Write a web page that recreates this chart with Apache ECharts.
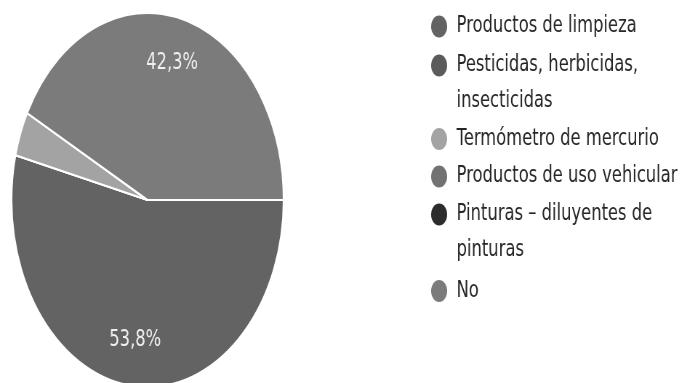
<!DOCTYPE html>
<html>
<head>
<meta charset="utf-8">
<script src="https://cdn.jsdelivr.net/npm/echarts@6/dist/echarts.min.js"></script>
<style>
  html, body { margin: 0; padding: 0; background: #fff; overflow: hidden; }
  #wrap { width: 682px; height: 383px; overflow: hidden; position: relative; }
  #c { width: 938px; height: 383px; transform: scaleX(0.727); transform-origin: 0 0; position: absolute; left: 0; top: 0; }
</style>
</head>
<body>
<div id="wrap"><div id="c"></div></div>
<script>
// Data (responses per option)
const categories = [
  'Productos de limpieza',
  'Pesticidas, herbicidas, insecticidas',
  'Termómetro de mercurio',
  'Productos de uso vehicular',
  'Pinturas – diluyentes de pinturas',
  'No'
];
const legendLabels = [
  'Productos de limpieza',
  'Pesticidas, herbicidas,\ninsecticidas',
  'Termómetro de mercurio',
  'Productos de uso vehicular',
  'Pinturas – diluyentes de\npinturas',
  'No'
];
const values = [14, 0, 1, 0, 0, 11];
const colors = ['#636363', '#5b5b5b', '#a3a3a3', '#727272', '#2c2c2c', '#7b7b7b'];

// Layout (unscaled chart coordinates)
const legendCenters = [26.5, 65.5, 139, 176.5, 214.5, 291];
const FONT = 'DejaVu Sans';
const LINE_H = 36;

const data = categories.map((name, i) => ({
  name: name,
  value: values[i],
  itemStyle: { color: colors[i] }
}));

const legends = categories.map((name, i) => {
  const multi = legendLabels[i].indexOf('\n') >= 0;
  return {
    data: [name],
    orient: 'vertical',
    left: 593,
    top: legendCenters[i] - (multi ? LINE_H * 1.5 : LINE_H / 2),
    padding: 0,
    itemWidth: 38,
    itemHeight: 22,
    icon: 'circle',
    itemStyle: { borderWidth: 0 },
    formatter: () => (multi ? '\n' : '') + legendLabels[i],
    textStyle: {
      fontFamily: FONT,
      fontSize: 22.5,
      color: '#262626',
      lineHeight: LINE_H
    }
  };
});

const chart = echarts.init(document.getElementById('c'), null, { renderer: 'canvas' });
chart.setOption({
  animation: false,
  backgroundColor: '#fff',
  legend: legends,
  series: [
    {
      type: 'pie',
      center: [203, 200],
      radius: 187,
      startAngle: 0,
      clockwise: true,
      percentPrecision: 1,
      itemStyle: { borderColor: '#fff', borderWidth: 2 },
      label: { show: false },
      labelLine: { show: false },
      emphasis: { disabled: true },
      data: data
    },
    {
      type: 'pie',
      center: [203, 200],
      radius: 276,
      startAngle: 0,
      clockwise: true,
      percentPrecision: 1,
      silent: true,
      z: 3,
      itemStyle: { color: 'rgba(0,0,0,0)', borderWidth: 0 },
      label: {
        show: true,
        position: 'inside',
        fontFamily: FONT,
        fontSize: 22.5,
        color: '#f0f0f0',
        formatter: p => p.percent >= 5 ? String(p.percent.toFixed(1)).replace('.', ',') + '%' : ''
      },
      labelLine: { show: false },
      emphasis: { disabled: true },
      data: categories.map((name, i) => ({ name: name, value: values[i] }))
    }
  ]
});
</script>
</body>
</html>
